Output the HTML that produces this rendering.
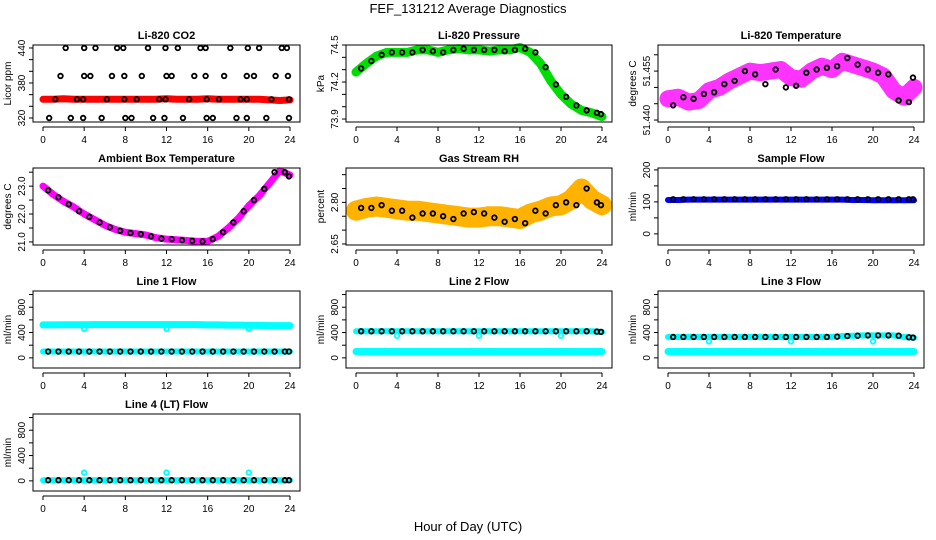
<!DOCTYPE html>
<html><head><meta charset="utf-8"><style>
body{margin:0;background:#fff}
svg{display:block;font-family:"Liberation Sans",sans-serif}
</style></head><body>
<svg id="c" width="936" height="540" viewBox="0 0 936 540">
<text x="468" y="13" text-anchor="middle" font-size="13">FEF_131212  Average Diagnostics</text>
<text x="468" y="531" text-anchor="middle" font-size="13">Hour of Day (UTC)</text>
</svg>
<script>
const H = [0,1,2,3,4,5,6,7,8,9,10,11,12,13,14,15,16,17,18,19,20,21,22,23,24];
const HB = [0.5,1.5,2.5,3.5,4.5,5.5,6.5,7.5,8.5,9.5,10.5,11.5,12.5,13.5,14.5,15.5,16.5,17.5,18.5,19.5,20.5,21.5,22.5,23.5,23.9];
const xTicks = [0,4,8,12,16,20,24];

const co2Hours = [2.2,4.0,5.1,7.2,7.8,10.2,11.9,13.1,15.3,15.8,18.2,19.9,21.0,23.2,23.7,
 1.7,4.0,4.6,6.7,7.9,9.6,12.0,12.5,14.7,15.8,17.6,19.8,20.5,22.6,23.8,
 1.2,3.3,3.9,6.2,7.9,9.1,11.3,11.9,14.2,15.9,17.1,19.2,19.8,22.2,23.9,
 0.6,2.7,3.9,5.7,8.0,8.6,10.7,11.8,13.6,15.9,16.5,18.8,19.8,21.7,23.9];
const co2Vals = [440,440,440,440,440,440,440,440,440,440,440,440,440,440,440,
 392,392,392,392,392,392,392,392,392,392,392,392,392,392,392,
 352,352,352,352,352,352,352,352,352,352,352,352,352,352,352,
 320,320,320,320,320,320,320,320,320,320,320,320,320,320,320];
const co2Red = [352,352,353,352,352,352,352,352,352,352,352,352,353,352,352,352,353,352,352,352,352,352,351,350,351];

const presGreen = [74.28,74.35,74.41,74.44,74.44,74.44,74.46,74.46,74.44,74.46,74.47,74.46,74.46,74.45,74.46,74.46,74.48,74.44,74.35,74.21,74.10,74.02,73.97,73.95,73.92];
const presBlack = [74.31,74.37,74.42,74.44,74.44,74.44,74.46,74.45,74.44,74.46,74.47,74.46,74.46,74.46,74.45,74.46,74.47,74.44,74.32,74.18,74.08,74.01,73.97,73.95,73.94];

const tempMag = [51.4465,51.447,51.4455,51.446,51.449,51.450,51.452,51.4535,51.455,51.4545,51.455,51.4555,51.453,51.4525,51.455,51.4565,51.4555,51.458,51.457,51.456,51.455,51.4535,51.449,51.447,51.450];
const tempBlack = [51.4445,51.447,51.4465,51.448,51.4485,51.451,51.452,51.455,51.454,51.451,51.4555,51.450,51.4505,51.4545,51.4555,51.456,51.4565,51.459,51.457,51.4555,51.4545,51.454,51.446,51.4455,51.453];

const ambMag = [23.0,22.7,22.45,22.25,22.0,21.8,21.6,21.45,21.35,21.3,21.25,21.15,21.1,21.08,21.05,21.02,21.02,21.2,21.5,21.85,22.3,22.65,23.1,23.55,23.4];
const ambBlack = [22.85,22.6,22.35,22.1,21.9,21.7,21.52,21.4,21.32,21.28,21.2,21.12,21.1,21.06,21.04,21.02,21.1,21.35,21.7,22.1,22.5,22.9,23.5,23.5,23.35];

const rhOrange = [2.77,2.78,2.785,2.78,2.775,2.77,2.77,2.765,2.76,2.755,2.75,2.745,2.745,2.75,2.75,2.745,2.74,2.76,2.77,2.785,2.79,2.81,2.85,2.81,2.79];
const rhBlack = [2.78,2.78,2.79,2.77,2.77,2.745,2.76,2.76,2.75,2.74,2.76,2.765,2.76,2.745,2.73,2.74,2.725,2.77,2.76,2.79,2.80,2.79,2.85,2.80,2.79];

const sampBlue = [106,106,107,107,107,107,107,107,107,107,107,107,107,107,107,107,107,107,106,106,105,105,105,105,105];
const sampBlack = [108,108,108,108,108,108,108,108,108,108,108,108,108,108,108,108,108,108,108,108,108,108,108,108,108];

const l1CyanHi = [520,520,522,522,522,525,525,525,525,525,525,525,525,525,525,525,520,520,518,518,515,512,510,510,510];
const l1CyanLo = [100,100,100,100,100,100,100,100,100,100,100,100,100,100,100,100,100,100,100,100,100,100,100,100,100];
const l1Black = [100,100,100,100,100,100,100,100,100,100,100,100,100,100,100,100,100,100,100,100,100,100,100,100,100];
const dipHours = [4,12,20];
const l1Dips = [460,460,460];

const l2CyanLo = [100,100,100,100,100,100,100,100,100,100,100,100,100,100,100,100,100,100,100,100,100,100,100,100,100];
const l2CyanHi = [420,420,420,420,420,420,420,420,420,420,420,420,420,420,420,420,420,420,420,420,420,420,420,420,410];
const l2Black = [420,420,420,420,420,420,420,420,420,420,420,420,420,420,420,420,420,420,420,420,420,420,420,415,410];
const l2Dips = [350,350,350];

const l3CyanLo = [100,100,100,100,100,100,100,100,100,100,100,100,100,100,100,100,100,100,100,100,100,100,100,100,100];
const l3CyanHi = [330,330,330,330,330,330,330,330,330,330,330,330,330,330,330,330,330,345,350,355,355,355,355,330,320];
const l3Black = [330,330,330,330,330,330,330,330,330,330,330,330,330,330,330,330,335,345,350,355,355,355,350,325,320];
const l3Dips = [260,260,260];

const l4Cyan = [10,10,10,10,10,10,10,10,10,10,10,10,10,10,10,10,10,10,10,10,10,10,10,10,10];
const l4Black = [10,10,10,10,10,10,10,10,10,10,10,10,10,10,10,10,10,10,10,10,10,10,10,10,10];
const l4Spikes = [130,130,130];

const flowTicks = [0,200,400,600,800,1000];
const flowLabels = [0,400,800];

const NS = "http://www.w3.org/2000/svg";
const svg = document.getElementById('c');
function mk(tag, attrs, parent){
  const e = document.createElementNS(NS, tag);
  for (const k in attrs) e.setAttribute(k, attrs[k]);
  (parent||svg).appendChild(e);
  return e;
}
const cols = [{l:33,r:300,x0:43,x24:290},{l:346,r:612,x0:356,x24:602},{l:658,r:924,x0:668,x24:914}];
const rows = [45,168,291,414];
const BH = 77;

function panel(slug, title, ylab, col, row, ymin, ymax, yTicks, yLabels, fmt, series){
  const c = cols[col], top = rows[row], bot = top + BH;
  const g = mk('g', {});
  
  
  const xs = h => c.x0 + (c.x24 - c.x0) * h / 24;
  const ys = v => bot - (v - ymin) / (ymax - ymin) * BH;
  const t = mk('text', {x:(c.l+c.r)/2, y:top-6, 'text-anchor':'middle', 'font-size':11, 'font-weight':'bold'}, g);
  t.textContent = title;
  
  
  for (const s of series){
    const sg = mk('g', {}, g);
    
    
    if (s.type === 'band'){
      const pts = s.hours.map((h,i)=>xs(h).toFixed(1)+','+ys(s.vals[i]).toFixed(1)).join(' ');
      mk('polyline', {points:pts, fill:'none', stroke:s.color, 'stroke-width':s.w, 'stroke-linejoin':'round', 'stroke-linecap':'round'}, sg);
    } else {
      s.hours.forEach((h,i)=>{
        const p = mk('circle', {cx:xs(h), cy:ys(s.vals[i]), r:s.r||2.3, fill:'none', stroke:s.color, 'stroke-width':s.sw||1.8}, sg);
        
        
      });
    }
  }
  mk('rect', {x:c.l, y:top, width:c.r-c.l, height:BH, fill:'none', stroke:'#000', 'stroke-width':1}, g);
  const ax = mk('g', {}, g);
  
  
  const ay0 = bot + 5;
  mk('line', {x1:xs(0), x2:xs(24), y1:ay0, y2:ay0, stroke:'#000'}, ax);
  xTicks.forEach(h=>{
    mk('line', {x1:xs(h), x2:xs(h), y1:ay0, y2:ay0+4, stroke:'#000'}, ax);
    const tl = mk('text', {x:xs(h), y:ay0+16, 'text-anchor':'middle', 'font-size':10}, ax);
    tl.textContent = h;
  });
  const yg = mk('g', {}, g);
  
  
  mk('line', {x1:c.l, x2:c.l, y1:ys(yTicks[0]), y2:ys(yTicks[yTicks.length-1]), stroke:'#000'}, yg);
  yTicks.forEach(v=>{
    mk('line', {x1:c.l-4, x2:c.l, y1:ys(v), y2:ys(v), stroke:'#000'}, yg);
  });
  yLabels.forEach(v=>{
    const lx = c.l - 8, ly = ys(v);
    const tl = mk('text', {x:lx, y:ly, 'text-anchor':'middle', 'font-size':10, transform:`rotate(-90 ${lx} ${ly})`}, yg);
    tl.textContent = fmt(v);
  });
  const yx = c.l - 22, yy = (top+bot)/2;
  const yl = mk('text', {x:yx, y:yy, 'text-anchor':'middle', 'font-size':10, transform:`rotate(-90 ${yx} ${yy})`}, g);
  yl.textContent = ylab;
  
  
}

const f0 = v=>String(v), f1 = v=>v.toFixed(1), f2 = v=>v.toFixed(2), f3 = v=>v.toFixed(3);

panel('co2','Li-820 CO2','Licor ppm',0,0,313.1,445.1,[320,340,360,380,400,420,440],[320,380,440],f0,[
  {name:'red-series',type:'band',hours:H,vals:co2Red,color:'#ff0000',w:7},
  {name:'black-points',type:'pts',hours:co2Hours,vals:co2Vals,color:'#000'}]);
panel('pressure','Li-820 Pressure','kPa',1,0,73.876,74.5,[73.9,74.0,74.1,74.2,74.3,74.4,74.5],[73.9,74.2,74.5],f1,[
  {name:'green-series',type:'band',hours:H,vals:presGreen,color:'#00dd00',w:9},
  {name:'black-points',type:'pts',hours:HB,vals:presBlack,color:'#000'}]);
panel('temperature','Li-820 Temperature','degrees C',2,0,51.4394,51.463,[51.440,51.445,51.450,51.455,51.460],[51.440,51.455],f3,[
  {name:'magenta-series',type:'band',hours:H,vals:tempMag,color:'#ff33ff',w:17},
  {name:'black-points',type:'pts',hours:HB,vals:tempBlack,color:'#000'}]);
panel('ambient','Ambient Box Temperature','degrees C',0,1,20.89,23.65,[21.0,21.5,22.0,22.5,23.0,23.5],[21.0,22.0,23.0],f1,[
  {name:'magenta-series',type:'band',hours:H,vals:ambMag,color:'#ff00ff',w:7},
  {name:'black-points',type:'pts',hours:HB,vals:ambBlack,color:'#000'}]);
panel('rh','Gas Stream RH','percent',1,1,2.6463,2.924,[2.65,2.70,2.75,2.80,2.85,2.90],[2.65,2.80],f2,[
  {name:'orange-series',type:'band',hours:H,vals:rhOrange,color:'#ffb300',w:20},
  {name:'black-points',type:'pts',hours:HB,vals:rhBlack,color:'#000'}]);
panel('sample-flow','Sample Flow','ml/min',2,1,-34.9,206,[0,50,100,150,200],[0,100,200],f0,[
  {name:'blue-series',type:'band',hours:H,vals:sampBlue,color:'#0000ff',w:6},
  {name:'black-points',type:'pts',hours:HB,vals:sampBlack,color:'#000'}]);
panel('line1-flow','Line 1 Flow','ml/min',0,2,-160,1056,flowTicks,flowLabels,f0,[
  {name:'cyan-high',type:'band',hours:H,vals:l1CyanHi,color:'#00ffff',w:7},
  {name:'cyan-low',type:'band',hours:H,vals:l1CyanLo,color:'#00ffff',w:6},
  {name:'cyan-dips',type:'pts',hours:dipHours,vals:l1Dips,color:'#00ffff'},
  {name:'black-points',type:'pts',hours:HB,vals:l1Black,color:'#000'}]);
panel('line2-flow','Line 2 Flow','ml/min',1,2,-160,1056,flowTicks,flowLabels,f0,[
  {name:'cyan-low',type:'band',hours:H,vals:l2CyanLo,color:'#00ffff',w:7},
  {name:'cyan-high',type:'band',hours:H,vals:l2CyanHi,color:'#00ffff',w:6},
  {name:'cyan-dips',type:'pts',hours:dipHours,vals:l2Dips,color:'#00ffff'},
  {name:'black-points',type:'pts',hours:HB,vals:l2Black,color:'#000'}]);
panel('line3-flow','Line 3 Flow','ml/min',2,2,-160,1056,flowTicks,flowLabels,f0,[
  {name:'cyan-low',type:'band',hours:H,vals:l3CyanLo,color:'#00ffff',w:7},
  {name:'cyan-high',type:'band',hours:H,vals:l3CyanHi,color:'#00ffff',w:6},
  {name:'cyan-dips',type:'pts',hours:dipHours,vals:l3Dips,color:'#00ffff'},
  {name:'black-points',type:'pts',hours:HB,vals:l3Black,color:'#000'}]);
panel('line4-flow','Line 4 (LT) Flow','ml/min',0,3,-160,1056,flowTicks,flowLabels,f0,[
  {name:'cyan-series',type:'band',hours:H,vals:l4Cyan,color:'#00ffff',w:6},
  {name:'cyan-spikes',type:'pts',hours:dipHours,vals:l4Spikes,color:'#00ffff'},
  {name:'black-points',type:'pts',hours:HB,vals:l4Black,color:'#000'}]);
</script>
</body></html>
